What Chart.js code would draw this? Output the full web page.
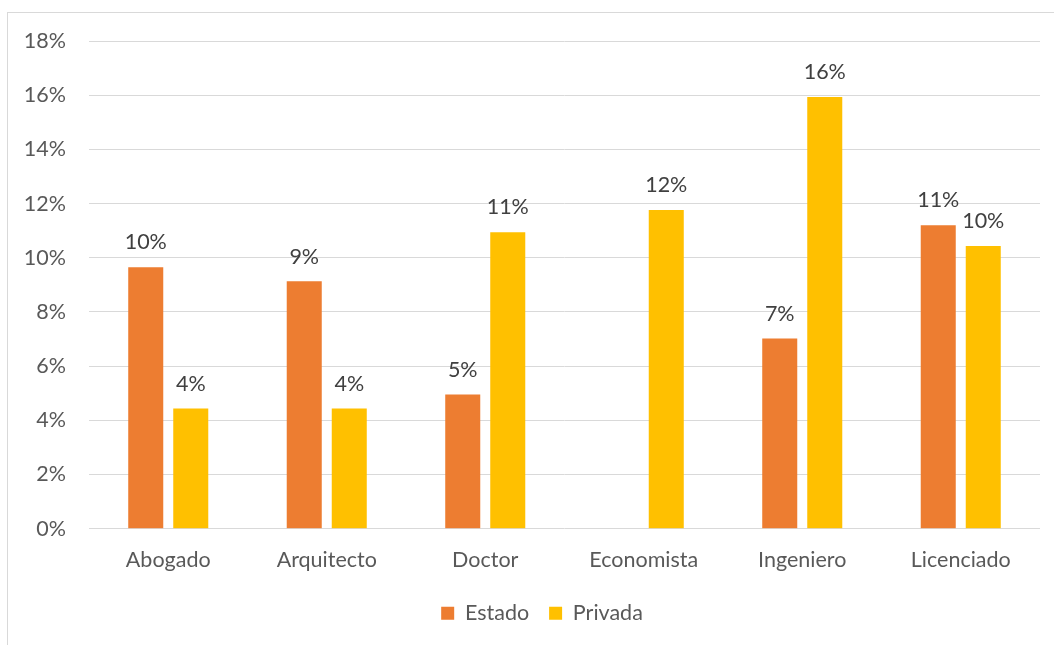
<!DOCTYPE html>
<html>
<head>
<meta charset="utf-8">
<script src="https://cdn.jsdelivr.net/npm/chart.js@4.4.1/dist/chart.umd.min.js"></script>
<style>
  html, body { margin: 0; padding: 0; background: #fff; overflow: hidden; }
  #frame { position: absolute; left: 7px; top: 12px; width: 1100px; height: 700px; border: 1px solid #d9d9d9; }
  #wrap { position: absolute; left: 0; top: 0; width: 1054px; height: 645px; }
</style>
</head>
<body>
<div id="frame"></div>
<div id="wrap"><canvas id="chart" width="1054" height="645"></canvas></div>
<script>
const categories = ["Abogado", "Arquitecto", "Doctor", "Economista", "Ingeniero", "Licenciado"];
const estado = [9.65, 9.13, 4.95, null, 7.02, 11.2];
const privada = [4.44, 4.44, 10.94, 11.76, 15.93, 10.43];
const yTicks = [0, 2, 4, 6, 8, 10, 12, 14, 16, 18];

const FONT = "Lato, 'Open Sans', sans-serif";
const FSIZE = 21.5;

// data labels above each bar, positioned from the bar elements
const barLabels = {
  id: "barLabels",
  afterDatasetsDraw(chart) {
    const ctx = chart.ctx;
    ctx.save();
    ctx.font = FSIZE + "px " + FONT;
    ctx.fillStyle = "#404040";
    ctx.textAlign = "center";
    ctx.textBaseline = "bottom";
    chart.data.datasets.forEach((ds, i) => {
      chart.getDatasetMeta(i).data.forEach((bar, j) => {
        const v = ds.data[j];
        if (v == null) return;
        ctx.fillText(Math.round(v) + "%", bar.x, bar.y - 14);
      });
    });
    ctx.restore();
  },
};

// nudge the legend to where the original has it
const legendShift = {
  id: "legendShift",
  afterLayout(chart) {
    const lg = chart.legend;
    lg.left += 22;
    lg.right += 22;
    lg.top -= 8;
    lg.bottom -= 8;
  },
};

new Chart(document.getElementById("chart"), {
  type: "bar",
  data: {
    labels: categories,
    datasets: [
      { label: "Estado", data: estado, backgroundColor: "#ED7D31" },
      { label: "Privada", data: privada, backgroundColor: "#FFC000" },
    ],
  },
  options: {
    responsive: false,
    animation: false,
    categoryPercentage: 0.568,
    barPercentage: 0.778,
    layout: { padding: { left: 0, right: 14, top: 41, bottom: 3 } },
    scales: {
      x: {
        grid: { display: false, drawTicks: false },
        border: { display: false },
        ticks: { color: "#595959", font: { family: FONT, size: FSIZE }, padding: 18 },
      },
      y: {
        min: 0,
        max: 18,
        afterFit(scale) { scale.width = 89; },
        afterBuildTicks(scale) { scale.ticks = yTicks.map(v => ({ value: v })); },
        grid: { color: "#d9d9d9", lineWidth: 1, drawTicks: false },
        border: { display: false },
        ticks: {
          color: "#595959",
          font: { family: FONT, size: FSIZE },
          padding: 23,
          callback: v => v + "%",
        },
      },
    },
    plugins: {
      legend: {
        position: "bottom",
        labels: {
          color: "#595959",
          font: { family: FONT, size: FSIZE },
          boxWidth: 13,
          boxHeight: 13,
          padding: 20,
        },
      },
      tooltip: { enabled: false },
    },
  },
  plugins: [barLabels, legendShift],
});
</script>
</body>
</html>
